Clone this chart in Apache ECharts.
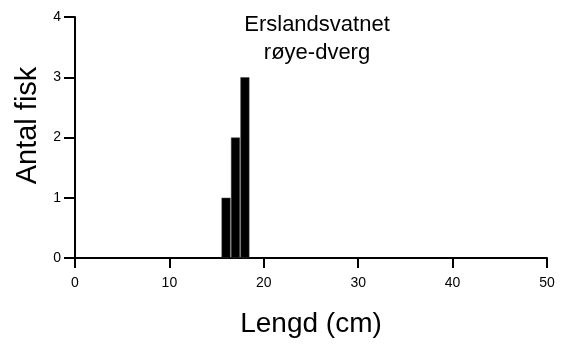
<!DOCTYPE html>
<html>
<head>
<meta charset="utf-8">
<script src="https://cdn.jsdelivr.net/npm/echarts@6/dist/echarts.min.js"></script>
<style>
  html, body { margin: 0; padding: 0; background: #fff; }
  #chart { width: 563px; height: 345px; }
</style>
</head>
<body>
<div id="chart"></div>
<script>
// lengths (cm) and fish counts
var lengths = [16, 17, 18]
var counts = [1, 2, 3]
var xTicks = [0, 10, 20, 30, 40, 50]
var yTicks = [0, 1, 2, 3, 4]

var chart = echarts.init(document.getElementById('chart'))
var font = 'Liberation Sans, Arial, sans-serif'

var option = {
  animation: false,
  backgroundColor: '#fff',
  title: {
    text: 'Erslandsvatnet\nrøye-dverg',
    left: 312,
    top: 6,
    textAlign: 'center',
    textStyle: {
      fontFamily: font,
      fontWeight: 'normal',
      fontSize: 22,
      lineHeight: 28,
      color: '#000',
    },
  },
  grid: {
    left: 75,
    right: 16,
    top: 17,
    bottom: 87,
  },
  xAxis: {
    type: 'value',
    min: xTicks[0],
    max: xTicks[xTicks.length - 1],
    interval: 10,
    name: 'Lengd (cm)',
    nameLocation: 'middle',
    nameGap: 52,
    nameTextStyle: { fontFamily: font, fontSize: 28, color: '#000' },
    axisLine: { lineStyle: { color: '#000', width: 2 } },
    axisTick: { show: true, length: 10, lineStyle: { color: '#000', width: 2 } },
    axisLabel: { fontFamily: font, fontSize: 14, color: '#000', margin: 18 },
    splitLine: { show: false },
  },
  yAxis: {
    type: 'value',
    min: yTicks[0],
    max: yTicks[yTicks.length - 1],
    interval: 1,
    name: 'Antal fisk',
    nameLocation: 'middle',
    nameGap: 32,
    nameTextStyle: { fontFamily: font, fontSize: 29, color: '#000', padding: [0, 0, 0, 24] },
    axisLine: { show: true, lineStyle: { color: '#000', width: 2 } },
    axisTick: { show: true, length: 11, lineStyle: { color: '#000', width: 2 } },
    axisLabel: { fontFamily: font, fontSize: 14, color: '#000', margin: 14 },
    splitLine: { show: false },
  },
  series: [
    {
      type: 'bar',
      barWidth: 9,
      itemStyle: { color: '#000', borderColor: '#444', borderWidth: 0.5 },
      data: lengths.map(function (l, i) { return [l, counts[i]] }),
    },
  ],
}
chart.setOption(option)
</script>
</body>
</html>
